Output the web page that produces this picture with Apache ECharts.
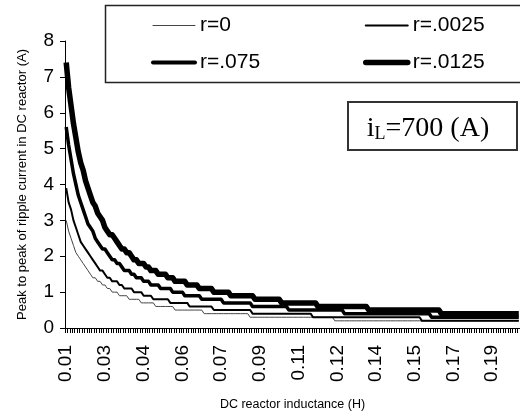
<!DOCTYPE html>
<html>
<head>
<meta charset="utf-8">
<script src="https://cdn.jsdelivr.net/npm/echarts@6/dist/echarts.min.js"></script>
<style>
  html, body { margin: 0; padding: 0; background: #fff; }
  #chart { width: 520px; height: 416px; }
</style>
</head>
<body>
<div id="chart"></div>
<script>
// DC reactor inductance (H), one category per mH
const inductance = [
  0.010, 0.011, 0.012, 0.013, 0.014, 0.015, 0.016, 0.017, 0.018, 0.019,
  0.020, 0.021, 0.022, 0.023, 0.024, 0.025, 0.026, 0.027, 0.028, 0.029,
  0.030, 0.031, 0.032, 0.033, 0.034, 0.035, 0.036, 0.037, 0.038, 0.039,
  0.040, 0.041, 0.042, 0.043, 0.044, 0.045, 0.046, 0.047, 0.048, 0.049,
  0.050, 0.051, 0.052, 0.053, 0.054, 0.055, 0.056, 0.057, 0.058, 0.059,
  0.060, 0.061, 0.062, 0.063, 0.064, 0.065, 0.066, 0.067, 0.068, 0.069,
  0.070, 0.071, 0.072, 0.073, 0.074, 0.075, 0.076, 0.077, 0.078, 0.079,
  0.080, 0.081, 0.082, 0.083, 0.084, 0.085, 0.086, 0.087, 0.088, 0.089,
  0.090, 0.091, 0.092, 0.093, 0.094, 0.095, 0.096, 0.097, 0.098, 0.099,
  0.100, 0.101, 0.102, 0.103, 0.104, 0.105, 0.106, 0.107, 0.108, 0.109,
  0.110, 0.111, 0.112, 0.113, 0.114, 0.115, 0.116, 0.117, 0.118, 0.119,
  0.120, 0.121, 0.122, 0.123, 0.124, 0.125, 0.126, 0.127, 0.128, 0.129,
  0.130, 0.131, 0.132, 0.133, 0.134, 0.135, 0.136, 0.137, 0.138, 0.139,
  0.140, 0.141, 0.142, 0.143, 0.144, 0.145, 0.146, 0.147, 0.148, 0.149,
  0.150, 0.151, 0.152, 0.153, 0.154, 0.155, 0.156, 0.157, 0.158, 0.159,
  0.160, 0.161, 0.162, 0.163, 0.164, 0.165, 0.166, 0.167, 0.168, 0.169,
  0.170, 0.171, 0.172, 0.173, 0.174, 0.175, 0.176, 0.177, 0.178, 0.179,
  0.180, 0.181, 0.182, 0.183, 0.184, 0.185, 0.186, 0.187, 0.188, 0.189,
  0.190, 0.191, 0.192, 0.193, 0.194, 0.195, 0.196, 0.197
];

// peak to peak ripple current (A)
const ripple_r0 = [
  3.0, 2.7, 2.5, 2.3, 2.1, 2.0, 1.9, 1.8, 1.7, 1.6,
  1.5, 1.4, 1.4, 1.3, 1.3, 1.2, 1.2, 1.1, 1.1, 1.0,
  1.0, 1.0, 0.9, 0.9, 0.9, 0.9, 0.8, 0.8, 0.8, 0.8,
  0.8, 0.7, 0.7, 0.7, 0.7, 0.7, 0.7, 0.6, 0.6, 0.6,
  0.6, 0.6, 0.6, 0.6, 0.6, 0.5, 0.5, 0.5, 0.5, 0.5,
  0.5, 0.5, 0.5, 0.5, 0.5, 0.5, 0.5, 0.4, 0.4, 0.4,
  0.4, 0.4, 0.4, 0.4, 0.4, 0.4, 0.4, 0.4, 0.4, 0.4,
  0.4, 0.4, 0.4, 0.4, 0.4, 0.4, 0.3, 0.3, 0.3, 0.3,
  0.3, 0.3, 0.3, 0.3, 0.3, 0.3, 0.3, 0.3, 0.3, 0.3,
  0.3, 0.3, 0.3, 0.3, 0.3, 0.3, 0.3, 0.3, 0.3, 0.3,
  0.3, 0.3, 0.3, 0.3, 0.3, 0.3, 0.3, 0.3, 0.3, 0.3,
  0.3, 0.2, 0.2, 0.2, 0.2, 0.2, 0.2, 0.2, 0.2, 0.2,
  0.2, 0.2, 0.2, 0.2, 0.2, 0.2, 0.2, 0.2, 0.2, 0.2,
  0.2, 0.2, 0.2, 0.2, 0.2, 0.2, 0.2, 0.2, 0.2, 0.2,
  0.2, 0.2, 0.2, 0.2, 0.2, 0.2, 0.2, 0.2, 0.2, 0.2,
  0.2, 0.2, 0.2, 0.2, 0.2, 0.2, 0.2, 0.2, 0.2, 0.2,
  0.2, 0.2, 0.2, 0.2, 0.2, 0.2, 0.2, 0.2, 0.2, 0.2,
  0.2, 0.2, 0.2, 0.2, 0.2, 0.2, 0.2, 0.2, 0.2, 0.2,
  0.2, 0.2, 0.2, 0.2, 0.2, 0.2, 0.2, 0.2
];
const ripple_r0025 = [
  3.9, 3.5, 3.3, 3.0, 2.8, 2.6, 2.4, 2.3, 2.2, 2.1,
  2.0, 1.9, 1.8, 1.7, 1.6, 1.6, 1.5, 1.4, 1.4, 1.3,
  1.3, 1.3, 1.2, 1.2, 1.1, 1.1, 1.1, 1.1, 1.0, 1.0,
  1.0, 1.0, 0.9, 0.9, 0.9, 0.9, 0.8, 0.8, 0.8, 0.8,
  0.8, 0.8, 0.8, 0.7, 0.7, 0.7, 0.7, 0.7, 0.7, 0.7,
  0.7, 0.6, 0.6, 0.6, 0.6, 0.6, 0.6, 0.6, 0.6, 0.6,
  0.6, 0.5, 0.5, 0.5, 0.5, 0.5, 0.5, 0.5, 0.5, 0.5,
  0.5, 0.5, 0.5, 0.5, 0.5, 0.5, 0.5, 0.4, 0.4, 0.4,
  0.4, 0.4, 0.4, 0.4, 0.4, 0.4, 0.4, 0.4, 0.4, 0.4,
  0.4, 0.4, 0.4, 0.4, 0.4, 0.4, 0.4, 0.4, 0.4, 0.4,
  0.4, 0.4, 0.3, 0.3, 0.3, 0.3, 0.3, 0.3, 0.3, 0.3,
  0.3, 0.3, 0.3, 0.3, 0.3, 0.3, 0.3, 0.3, 0.3, 0.3,
  0.3, 0.3, 0.3, 0.3, 0.3, 0.3, 0.3, 0.3, 0.3, 0.3,
  0.3, 0.3, 0.3, 0.3, 0.3, 0.3, 0.3, 0.3, 0.3, 0.3,
  0.3, 0.3, 0.3, 0.3, 0.3, 0.3, 0.3, 0.2, 0.2, 0.2,
  0.2, 0.2, 0.2, 0.2, 0.2, 0.2, 0.2, 0.2, 0.2, 0.2,
  0.2, 0.2, 0.2, 0.2, 0.2, 0.2, 0.2, 0.2, 0.2, 0.2,
  0.2, 0.2, 0.2, 0.2, 0.2, 0.2, 0.2, 0.2, 0.2, 0.2,
  0.2, 0.2, 0.2, 0.2, 0.2, 0.2, 0.2, 0.2
];
const ripple_r075 = [
  5.6, 5.1, 4.7, 4.3, 4.0, 3.7, 3.5, 3.3, 3.1, 2.9,
  2.8, 2.7, 2.5, 2.4, 2.3, 2.2, 2.2, 2.1, 2.0, 1.9,
  1.9, 1.8, 1.8, 1.7, 1.6, 1.6, 1.6, 1.5, 1.5, 1.4,
  1.4, 1.4, 1.3, 1.3, 1.3, 1.2, 1.2, 1.2, 1.2, 1.1,
  1.1, 1.1, 1.1, 1.1, 1.0, 1.0, 1.0, 1.0, 1.0, 0.9,
  0.9, 0.9, 0.9, 0.9, 0.9, 0.9, 0.8, 0.8, 0.8, 0.8,
  0.8, 0.8, 0.8, 0.8, 0.8, 0.7, 0.7, 0.7, 0.7, 0.7,
  0.7, 0.7, 0.7, 0.7, 0.7, 0.7, 0.7, 0.6, 0.6, 0.6,
  0.6, 0.6, 0.6, 0.6, 0.6, 0.6, 0.6, 0.6, 0.6, 0.6,
  0.6, 0.6, 0.5, 0.5, 0.5, 0.5, 0.5, 0.5, 0.5, 0.5,
  0.5, 0.5, 0.5, 0.5, 0.5, 0.5, 0.5, 0.5, 0.5, 0.5,
  0.5, 0.5, 0.5, 0.5, 0.5, 0.4, 0.4, 0.4, 0.4, 0.4,
  0.4, 0.4, 0.4, 0.4, 0.4, 0.4, 0.4, 0.4, 0.4, 0.4,
  0.4, 0.4, 0.4, 0.4, 0.4, 0.4, 0.4, 0.4, 0.4, 0.4,
  0.4, 0.4, 0.4, 0.4, 0.4, 0.4, 0.4, 0.4, 0.4, 0.4,
  0.4, 0.3, 0.3, 0.3, 0.3, 0.3, 0.3, 0.3, 0.3, 0.3,
  0.3, 0.3, 0.3, 0.3, 0.3, 0.3, 0.3, 0.3, 0.3, 0.3,
  0.3, 0.3, 0.3, 0.3, 0.3, 0.3, 0.3, 0.3, 0.3, 0.3,
  0.3, 0.3, 0.3, 0.3, 0.3, 0.3, 0.3, 0.3
];
const ripple_r0125 = [
  7.4, 6.7, 6.2, 5.7, 5.3, 4.9, 4.6, 4.4, 4.1, 3.9,
  3.7, 3.5, 3.4, 3.2, 3.1, 3.0, 2.8, 2.7, 2.6, 2.6,
  2.5, 2.4, 2.3, 2.2, 2.2, 2.1, 2.1, 2.0, 1.9, 1.9,
  1.8, 1.8, 1.8, 1.7, 1.7, 1.6, 1.6, 1.6, 1.5, 1.5,
  1.5, 1.5, 1.4, 1.4, 1.4, 1.3, 1.3, 1.3, 1.3, 1.3,
  1.2, 1.2, 1.2, 1.2, 1.2, 1.1, 1.1, 1.1, 1.1, 1.1,
  1.1, 1.0, 1.0, 1.0, 1.0, 1.0, 1.0, 1.0, 0.9, 0.9,
  0.9, 0.9, 0.9, 0.9, 0.9, 0.9, 0.9, 0.9, 0.8, 0.8,
  0.8, 0.8, 0.8, 0.8, 0.8, 0.8, 0.8, 0.8, 0.8, 0.7,
  0.7, 0.7, 0.7, 0.7, 0.7, 0.7, 0.7, 0.7, 0.7, 0.7,
  0.7, 0.7, 0.7, 0.7, 0.6, 0.6, 0.6, 0.6, 0.6, 0.6,
  0.6, 0.6, 0.6, 0.6, 0.6, 0.6, 0.6, 0.6, 0.6, 0.6,
  0.6, 0.6, 0.6, 0.6, 0.6, 0.5, 0.5, 0.5, 0.5, 0.5,
  0.5, 0.5, 0.5, 0.5, 0.5, 0.5, 0.5, 0.5, 0.5, 0.5,
  0.5, 0.5, 0.5, 0.5, 0.5, 0.5, 0.5, 0.5, 0.5, 0.5,
  0.5, 0.5, 0.5, 0.5, 0.5, 0.4, 0.4, 0.4, 0.4, 0.4,
  0.4, 0.4, 0.4, 0.4, 0.4, 0.4, 0.4, 0.4, 0.4, 0.4,
  0.4, 0.4, 0.4, 0.4, 0.4, 0.4, 0.4, 0.4, 0.4, 0.4,
  0.4, 0.4, 0.4, 0.4, 0.4, 0.4, 0.4, 0.4
];

const seriesNames = ["r=0", "r=.0025", "r=.075", "r=.0125"];
const yTicks = [0, 8, 1]; // min, max, step

const SANS = "'Liberation Sans', Arial, sans-serif";
const SERIF = "'Liberation Serif', 'Times New Roman', serif";

const chart = echarts.init(document.getElementById("chart"), null, { renderer: "canvas" });

function lineSeries(name, data, width, color) {
  return {
    name,
    type: "line",
    data,
    symbol: "none",
    showSymbol: false,
    animation: false,
    lineStyle: { color, width, join: "round" },
    itemStyle: { color },
  };
}

function legendItem(name, width, color) {
  return { name, itemStyle: { opacity: 0 }, lineStyle: { width, color, cap: "round" } };
}

const legendCommon = {
  orient: "vertical",
  top: 15,
  padding: 0,
  itemGap: 16,
  itemWidth: 42,
  itemHeight: 20,
  itemStyle: { opacity: 0 },
  textStyle: { fontFamily: SANS, fontSize: 21, color: "#000", padding: [0, 0, 0, 0] },
};

chart.setOption({
  animation: false,
  backgroundColor: "#fff",
  grid: { left: 65, right: 0, top: 41, bottom: 87, containLabel: false },
  legend: [
    Object.assign({}, legendCommon, {
      left: 151,
      data: [legendItem(seriesNames[0], 1, "#444"), legendItem(seriesNames[2], 4, "#000")],
    }),
    Object.assign({}, legendCommon, {
      left: 363,
      data: [legendItem(seriesNames[1], 2, "#000"), legendItem(seriesNames[3], 5.5, "#000")],
    }),
  ],
  xAxis: {
    type: "category",
    data: inductance,
    boundaryGap: true,
    name: "DC reactor inductance (H)",
    nameLocation: "middle",
    nameGap: 70,
    nameTextStyle: { fontFamily: SANS, fontSize: 12.5, color: "#000" },
    axisLine: { lineStyle: { color: "#000", width: 1 } },
    axisTick: { show: true, interval: 0, length: 5, lineStyle: { color: "#000" } },
    axisLabel: {
      interval: 15,
      rotate: 90,
      margin: 17,
      fontFamily: SANS,
      fontSize: 19,
      color: "#000",
      formatter: (v) => Number(v).toFixed(2),
    },
    splitLine: { show: false },
  },
  yAxis: {
    type: "value",
    min: yTicks[0],
    max: yTicks[1],
    interval: yTicks[2],
    name: "Peak to peak of ripple current in DC reactor (A)",
    nameLocation: "middle",
    nameGap: 36,
    nameTextStyle: { fontFamily: SANS, fontSize: 13, color: "#000" },
    axisLine: { show: true, lineStyle: { color: "#000", width: 1 } },
    axisTick: { show: true, length: 5, lineStyle: { color: "#000" } },
    axisLabel: { margin: 11, fontFamily: SANS, fontSize: 19, color: "#000" },
    splitLine: { show: false },
  },
  series: [
    lineSeries(seriesNames[0], ripple_r0, 1, "#444"),
    lineSeries(seriesNames[1], ripple_r0025, 2, "#000"),
    lineSeries(seriesNames[2], ripple_r075, 3.5, "#000"),
    lineSeries(seriesNames[3], ripple_r0125, 5.5, "#000"),
  ],
  graphic: [
    {
      type: "rect",
      silent: true,
      shape: { x: 105.5, y: 5.5, width: 440, height: 77 },
      style: { fill: "none", stroke: "#222", lineWidth: 1.5 },
      z: 10,
    },
    {
      type: "rect",
      silent: true,
      shape: { x: 348, y: 102, width: 169, height: 48 },
      style: { fill: "#fff", stroke: "#333", lineWidth: 2 },
      z: 10,
    },
    {
      type: "text",
      silent: true,
      x: 428,
      y: 129,
      z: 11,
      style: {
        text: "{i|i}{s|L}{t|=700 (A)}",
        align: "center",
        verticalAlign: "middle",
        fill: "#000",
        rich: {
          i: { fontFamily: SERIF, fontSize: 28, fill: "#000" },
          s: { fontFamily: SERIF, fontSize: 18, fill: "#000", verticalAlign: "bottom" },
          t: { fontFamily: SERIF, fontSize: 28, fill: "#000" },
        },
      },
    },
  ],
});

window.addEventListener("resize", () => chart.resize());
</script>
</body>
</html>
